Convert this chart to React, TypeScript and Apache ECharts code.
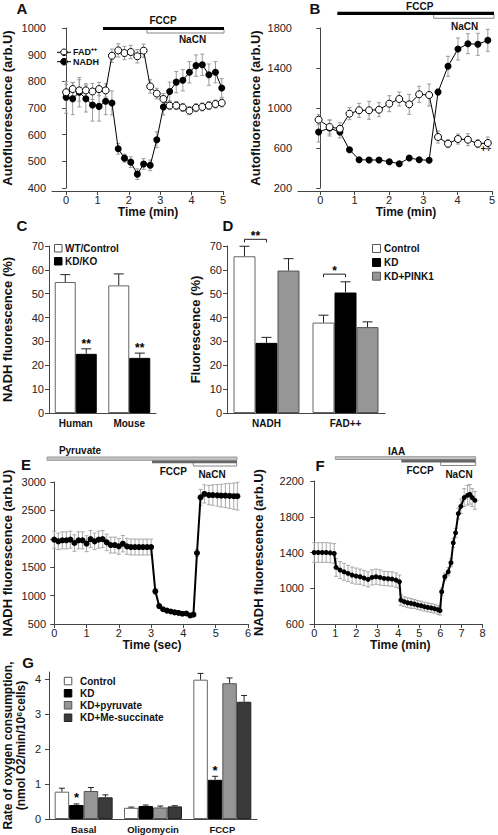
import React, { useEffect, useRef } from "react";
import * as echarts from "echarts";

const FONT = "'Liberation Sans', Arial, Helvetica, sans-serif";
const AXIS = "#444";
const INK = "#111";

// ---------- Panel A ----------
const aTime = [0, 0.21, 0.42, 0.63, 0.84, 1.05, 1.26, 1.46, 1.66, 1.86, 2.06, 2.27, 2.47, 2.68, 2.89, 3.1, 3.3, 3.51, 3.72, 3.93, 4.14, 4.34, 4.55, 4.76, 4.96];
const aFad = [759, 771, 766, 766, 762, 771, 766, 896, 916, 906, 910, 894, 915, 781, 754, 734, 709, 709, 702, 690, 701, 704, 709, 715, 719];
const aFadErr = [30, 25, 40, 25, 30, 25, 25, 25, 25, 25, 25, 25, 25, 25, 20, 20, 15, 15, 15, 15, 15, 15, 15, 15, 15];
const aNadh = [740, 735, 759, 735, 711, 706, 725, 719, 547, 512, 497, 452, 490, 485, 581, 704, 762, 797, 804, 834, 859, 862, 825, 834, 775];
const aNadhErr = [60, 60, 55, 50, 60, 55, 50, 45, 20, 15, 20, 20, 20, 20, 30, 30, 35, 40, 40, 40, 40, 40, 40, 40, 35];
const aXTicks = [0, 1, 2, 3, 4, 5];

// ---------- Panel B ----------
const bTime = [-0.05, 0.27, 0.57, 0.85, 1.13, 1.42, 1.71, 2.01, 2.3, 2.59, 2.88, 3.17, 3.43, 3.72, 4.01, 4.3, 4.59, 4.88];
const bFad = [883, 810, 793, 943, 977, 977, 983, 1043, 1090, 1037, 1137, 1130, 710, 643, 690, 683, 643, 650];
const bFadErr = [50, 70, 60, 60, 70, 90, 70, 80, 70, 100, 80, 110, 60, 40, 50, 60, 40, 60];
const bNadh = [760, 800, 760, 583, 483, 480, 480, 463, 443, 500, 483, 477, 1160, 1417, 1590, 1643, 1637, 1677];
const bNadhErr = [100, 80, 60, 20, 15, 15, 15, 15, 15, 15, 15, 15, 30, 100, 110, 100, 110, 110];
const bXTicks = [0, 1, 2, 3, 4, 5];
const bYTicks = [200, 600, 1000, 1400, 1800];

// ---------- Panel C ----------
const cCats = ["Human", "Mouse"];
const cWT = [54.9, 53.5];
const cWTErr = [3.1, 4.8];
const cKD = [24.8, 23.1];
const cKDErr = [2.1, 2.0];
const cKDSig = ["**", "**"];

// ---------- Panel D ----------
const dCats = ["NADH", "FAD++"];
const dControl = [65.7, 37.9];
const dControlErr = [4.2, 3.1];
const dKD = [29.4, 50.5];
const dKDErr = [2.3, 4.5];
const dPink = [59.7, 36.0];
const dPinkErr = [5.0, 2.2];
const dBracketLevel = [72.8, 58.2];
const dBracketSig = ["**", "*"];

// ---------- Panel E ----------
const eTime = [0, 0.125, 0.25, 0.375, 0.5, 0.625, 0.75, 0.875, 1.0, 1.125, 1.25, 1.375, 1.5, 1.625, 1.75, 1.875, 2.0, 2.125, 2.25, 2.375, 2.5, 2.625, 2.75, 2.875, 3.0,
  3.13, 3.25, 3.37, 3.49, 3.61, 3.73, 3.85, 3.97, 4.09, 4.21, 4.31,
  4.42, 4.53, 4.65, 4.79, 4.91, 5.05, 5.17, 5.3, 5.43, 5.56, 5.67];
const eNadh = [1985, 1955, 1973, 1973, 1985, 1926, 1973, 1973, 1914, 1996, 1955, 1985, 1996, 1937, 1890, 1890, 1867, 1914, 1867, 1855, 1855, 1855, 1855, 1855, 1855,
  1075, 815, 760, 735, 720, 705, 695, 680, 685, 650, 665,
  1750, 2730, 2790, 2770, 2770, 2765, 2760, 2760, 2755, 2750, 2750];
const eErr = [150, 145, 150, 150, 150, 145, 150, 150, 140, 150, 145, 150, 150, 145, 140, 140, 140, 145, 140, 140, 140, 140, 140, 140, 140,
  50, 35, 30, 30, 30, 30, 30, 30, 30, 30, 30,
  60, 140, 160, 170, 180, 190, 200, 210, 220, 230, 245];
const eXTicks = [0, 1, 2, 3, 4, 5, 6];

// ---------- Panel F ----------
const fTime = [0, 0.19, 0.38, 0.57, 0.76, 0.95, 1.04, 1.23, 1.42, 1.61, 1.8, 1.99, 2.18, 2.37, 2.56, 2.75, 2.94, 3.13, 3.32, 3.51, 3.7, 3.89, 4.05,
  4.12, 4.28, 4.44, 4.6, 4.76, 4.92, 5.08, 5.24, 5.4, 5.56, 5.72, 5.88, 5.98,
  6.06, 6.21, 6.37, 6.5, 6.61, 6.72, 6.85, 6.97, 7.13, 7.29, 7.4, 7.51, 7.64];
const fNadh = [1400, 1400, 1400, 1400, 1396, 1389, 1233, 1203, 1184, 1166, 1147, 1136, 1129, 1114, 1099, 1121, 1129, 1121, 1110, 1106, 1103, 1091, 1073,
  868, 850, 838, 831, 824, 812, 805, 794, 786, 780, 771, 760, 750,
  961, 1129, 1184, 1285, 1508, 1620, 1835, 1917, 2014, 2040, 2051, 2014, 1984];
const fErr = [110, 110, 110, 110, 110, 110, 100, 95, 95, 90, 90, 90, 85, 85, 85, 85, 85, 85, 80, 80, 80, 80, 75,
  60, 55, 55, 55, 50, 50, 50, 50, 50, 50, 50, 50, 50,
  40, 40, 45, 45, 50, 50, 60, 80, 100, 110, 110, 100, 100];
const fXTicks = [0, 1, 2, 3, 4, 5, 6, 7, 8];
const fYTicks = [600, 1000, 1400, 1800, 2200];

// ---------- Panel G ----------
const gCats = ["Basal", "Oligomycin", "FCCP"];
const gControl = [0.78, 0.32, 3.98];
const gControlErr = [0.1, 0.02, 0.18];
const gKD = [0.4, 0.37, 1.12];
const gKDErr = [0.03, 0.03, 0.1];
const gKDSig = ["*", "", "*"];
const gPyruvate = [0.8, 0.33, 3.88];
const gPyruvateErr = [0.1, 0.04, 0.15];
const gSuccinate = [0.62, 0.36, 3.35];
const gSuccinateErr = [0.07, 0.02, 0.18];
const gYTicks = [0, 1, 2, 3, 4];

// ---------- helpers ----------
const plain = (v: number) => String(v);

function lineErr(gi: number, times: number[], vals: number[], errs: number[], color: string, capW: number) {
  return {
    type: "custom",
    xAxisIndex: gi,
    yAxisIndex: gi,
    z: 1,
    silent: true,
    data: times.map((t, i) => [t, vals[i], errs[i]]),
    encode: { x: 0, y: 1 },
    renderItem: (params: any, api: any) => {
      const x = api.value(0), y = api.value(1), e = api.value(2);
      const lo = api.coord([x, y - e]);
      const hi = api.coord([x, y + e]);
      const h = capW / 2;
      const st = { stroke: color, lineWidth: 1 };
      return {
        type: "group",
        children: [
          { type: "line", shape: { x1: lo[0], y1: lo[1], x2: hi[0], y2: hi[1] }, style: st },
          { type: "line", shape: { x1: lo[0] - h, y1: lo[1], x2: lo[0] + h, y2: lo[1] }, style: st },
          { type: "line", shape: { x1: hi[0] - h, y1: hi[1], x2: hi[0] + h, y2: hi[1] }, style: st },
        ],
      };
    },
  };
}

function lineSeries(gi: number, name: string, times: number[], vals: number[], size: number, width: number, open: boolean, z: number) {
  return {
    type: "line",
    name,
    xAxisIndex: gi,
    yAxisIndex: gi,
    data: times.map((t, i) => [t, vals[i]]),
    symbol: "circle",
    symbolSize: size,
    showAllSymbol: true,
    lineStyle: { color: "#000", width },
    itemStyle: open ? { color: "#fff", borderColor: "#000", borderWidth: 1 } : { color: "#000", borderColor: "#000", borderWidth: 0 },
    z,
    silent: true,
  };
}

function barSeries(gi: number, name: string, data: number[], color: string, border: string, barW: number) {
  return {
    type: "bar",
    name,
    xAxisIndex: gi,
    yAxisIndex: gi,
    data,
    barWidth: barW,
    barGap: "0%",
    itemStyle: { color, borderColor: border, borderWidth: 1 },
    silent: true,
    z: 2,
  };
}

function barErr(gi: number, vals: number[], errs: number[], k: number, n: number, barW: number, capW: number, stars?: string[], starSize?: number, starLift?: number) {
  return {
    type: "custom",
    xAxisIndex: gi,
    yAxisIndex: gi,
    z: 6,
    silent: true,
    data: vals.map((v, i) => [i, v, errs[i]]),
    encode: { x: 0, y: 1 },
    renderItem: (params: any, api: any) => {
      const i = api.value(0), v = api.value(1), e = api.value(2);
      const top = api.coord([i, v]);
      const cap = api.coord([i, v + e]);
      const x = top[0] + (k - (n - 1) / 2) * barW;
      const st = { stroke: "#222", lineWidth: 1 };
      const ch: any[] = [
        { type: "line", shape: { x1: x, y1: top[1], x2: x, y2: cap[1] }, style: st },
        { type: "line", shape: { x1: x - capW / 2, y1: cap[1], x2: x + capW / 2, y2: cap[1] }, style: st },
      ];
      const s = stars ? stars[params.dataIndex] : "";
      if (s) {
        ch.push({
          type: "text",
          x,
          y: cap[1] - (starLift || 5),
          style: { text: s, textAlign: "center", textVerticalAlign: "middle", fontSize: starSize || 12, fontWeight: "bold", fontFamily: FONT, fill: "#000" },
        });
      }
      return { type: "group", children: ch };
    },
  };
}

function bracketSeries(gi: number, levels: number[], sigs: string[], n: number, barW: number) {
  return {
    type: "custom",
    xAxisIndex: gi,
    yAxisIndex: gi,
    z: 7,
    silent: true,
    data: levels.map((l, i) => [i, l]),
    encode: { x: 0, y: 1 },
    renderItem: (params: any, api: any) => {
      const i = api.value(0), l = api.value(1);
      const c = api.coord([i, l]);
      const x1 = c[0] + (0 - (n - 1) / 2) * barW;
      const x2 = c[0] + (1 - (n - 1) / 2) * barW;
      const y = c[1];
      return {
        type: "group",
        children: [
          { type: "polyline", shape: { points: [[x1, y + 3], [x1, y], [x2, y], [x2, y + 3]] }, style: { stroke: "#222", lineWidth: 1, fill: null } },
          {
            type: "text",
            x: (x1 + x2) / 2,
            y: y - 3,
            style: { text: sigs[params.dataIndex], textAlign: "center", textVerticalAlign: "middle", fontSize: 12, fontWeight: "bold", fontFamily: FONT, fill: "#000" },
          },
        ],
      };
    },
  };
}

const nameStyle = (size = 13) => ({ fontFamily: FONT, fontWeight: "bold", fontSize: size, color: INK });
const labelStyle = { color: "#222", fontSize: 11, fontFamily: FONT, formatter: plain };

function valueX(gi: number, min: number, max: number, ticks: number[], name: string, gap: number, shift: number, offset: number) {
  return {
    gridIndex: gi,
    type: "value",
    min,
    max,
    offset,
    axisLine: { show: true, onZero: false, lineStyle: { color: AXIS, width: 1 } },
    axisTick: { show: true, length: 4, customValues: ticks, lineStyle: { color: AXIS } },
    axisLabel: { ...labelStyle, margin: 3, customValues: ticks },
    splitLine: { show: false },
    name,
    nameLocation: "middle",
    nameGap: gap,
    nameTextStyle: { ...nameStyle(12), padding: [0, 0, 0, shift * 2] },
  };
}

function valueY(gi: number, min: number, max: number, name: string, gap: number, extra: any = {}) {
  return {
    gridIndex: gi,
    type: "value",
    min,
    max,
    axisLine: { show: true, lineStyle: { color: AXIS, width: 1 } },
    axisTick: { show: true, length: 4, lineStyle: { color: AXIS }, ...(extra.tick || {}) },
    axisLabel: { ...labelStyle, margin: 6, ...(extra.label || {}) },
    splitLine: { show: false },
    name,
    nameLocation: "middle",
    nameGap: gap,
    nameTextStyle: extra.nameStyle || nameStyle(13),
    ...(extra.interval ? { interval: extra.interval } : {}),
  };
}

function catX(gi: number, cats: string[], size: number) {
  return {
    gridIndex: gi,
    type: "category",
    data: cats,
    axisLine: { show: true, lineStyle: { color: AXIS, width: 1 } },
    axisTick: { show: false },
    axisLabel: { color: INK, fontSize: size, fontWeight: "bold", fontFamily: FONT, margin: 5 },
    splitLine: { show: false },
  };
}

function gText(x: number, y: number, text: string, size: number, align = "center", weight = "bold") {
  return {
    type: "text",
    x,
    y,
    silent: true,
    style: { text, fill: INK, fontSize: size, fontWeight: weight, fontFamily: FONT, textAlign: align, textVerticalAlign: "middle" },
  };
}

function gRect(x: number, y: number, w: number, h: number, fill: string, stroke?: string) {
  return {
    type: "rect",
    silent: true,
    shape: { x, y, width: w, height: h },
    style: { fill, stroke: stroke || null, lineWidth: stroke ? 1 : 0 },
  };
}

function buildOption() {
  const graphics: any[] = [
    // panel letters
    gText(22, 8, "A", 15),
    gText(315, 8, "B", 15),
    gText(22, 225, "C", 15),
    gText(228, 225, "D", 15),
    gText(26, 464, "E", 15),
    gText(320, 465, "F", 15),
    gText(28, 662, "G", 15),
    // Panel A treatment bars
    gRect(147, 29.5, 77, 3.5, "#fff", "#888"),
    gRect(103, 27, 121, 3, "#000"),
    gText(163, 20, "FCCP", 10),
    gText(192.5, 39, "NaCN", 10),
    // Panel A legend
    { type: "line", silent: true, shape: { x1: 57, y1: 52.3, x2: 71, y2: 52.3 }, style: { stroke: "#000", lineWidth: 1 } },
    { type: "circle", silent: true, shape: { cx: 64, cy: 52.3, r: 3.3 }, style: { fill: "#fff", stroke: "#000", lineWidth: 1 } },
    gText(73, 52.3, "FAD⁺⁺", 9, "left"),
    { type: "line", silent: true, shape: { x1: 57, y1: 61.7, x2: 71, y2: 61.7 }, style: { stroke: "#000", lineWidth: 1 } },
    { type: "circle", silent: true, shape: { cx: 64, cy: 61.7, r: 3.3 }, style: { fill: "#000", stroke: "#000", lineWidth: 1 } },
    gText(73, 61.7, "NADH", 9, "left"),
    // Panel B treatment bars
    gRect(433.7, 14.5, 60.3, 3.8, "#fff", "#888"),
    gRect(337.3, 11.7, 156.7, 3.3, "#000"),
    gText(419.7, 6.5, "FCCP", 10),
    gText(464.7, 26, "NaCN", 10),
    gText(486, 149, "++", 9),
    // Panel C legend
    gRect(54.5, 244.5, 7.5, 7.5, "#fff", "#555"),
    gText(65, 248.3, "WT/Control", 10, "left"),
    gRect(54.5, 257.5, 7.5, 7.5, "#000", "#000"),
    gText(65, 261.3, "KD/KO", 10, "left"),
    // Panel D legend
    gRect(372.5, 244.5, 8, 8, "#fff", "#555"),
    gText(384, 248.5, "Control", 10, "left"),
    gRect(372.5, 258.5, 8, 8, "#000", "#000"),
    gText(384, 262.5, "KD", 10, "left"),
    gRect(372.5, 272.2, 8, 8, "#969696", "#555"),
    gText(384, 276.2, "KD+PINK1", 10, "left"),
    // Panel E treatment bars
    gRect(47, 457, 190, 3.3, "#c4c4c4", "#9a9a9a"),
    gRect(193.3, 462.3, 43.4, 3.7, "#fff", "#888"),
    gRect(152, 460.5, 85, 2.8, "#666"),
    gText(80, 450.5, "Pyruvate", 10),
    gText(173.3, 471.5, "FCCP", 10),
    gText(212, 474, "NaCN", 10),
    // Panel F treatment bars
    gRect(335.3, 456.7, 140.4, 2.8, "#c4c4c4", "#9a9a9a"),
    gRect(440.7, 461.7, 35, 3.8, "#fff", "#888"),
    gRect(401.3, 459.5, 74.4, 3, "#666"),
    gText(396.7, 451.7, "IAA", 10),
    gText(420, 470, "FCCP", 10),
    gText(459, 474, "NaCN", 10),
    // Panel G legend
    gRect(64.3, 677.3, 7.5, 7.5, "#fff", "#555"),
    gText(80, 681, "Control", 10, "left"),
    gRect(64.3, 689.5, 7.5, 7.5, "#000", "#000"),
    gText(80, 693.3, "KD", 10, "left"),
    gRect(64.3, 701.5, 7.5, 7.5, "#969696", "#555"),
    gText(80, 705.3, "KD+pyruvate", 10, "left"),
    gRect(64.3, 714, 7.5, 7.5, "#3a3a3a", "#222"),
    gText(80, 717.7, "KD+Me-succinate", 10, "left"),
  ];

  return {
    animation: false,
    backgroundColor: "#fff",
    textStyle: { fontFamily: FONT },
    grid: [
      { left: 52, top: 28, width: 171, height: 160 },
      { left: 298, top: 28, width: 195.5, height: 160 },
      { left: 49, top: 246, width: 107, height: 167 },
      { left: 227, top: 246, width: 158, height: 167 },
      { left: 52, top: 482, width: 196, height: 142 },
      { left: 310, top: 481, width: 172.5, height: 143 },
      { left: 49, top: 672, width: 208, height: 147 },
    ],
    xAxis: [
      valueX(0, -0.45, 5, aXTicks, "Time (min)", 15, 10.5, 3),
      valueX(1, -0.65, 5, bXTicks, "Time (min)", 15, 11, 3),
      catX(2, cCats, 10),
      catX(3, dCats, 10),
      valueX(4, -0.07, 6, eXTicks, "Time (sec)", 14, 2, 0),
      valueX(5, -0.2, 8, fXTicks, "Time (min)", 14, 4, 0),
      catX(6, gCats, 9.5),
    ],
    yAxis: [
      valueY(0, 400, 1000, "Autofluorescence (arb.U)", 38, { interval: 100 }),
      valueY(1, 200, 1800, "Autofluorescence (arb.U)", 36, { tick: { customValues: bYTicks }, label: { customValues: bYTicks } }),
      valueY(2, 0, 70, "NADH fluorescence (%)", 35, { interval: 10, label: { margin: 5 } }),
      valueY(3, 0, 70, "Fluorescence (%)", 25, { interval: 10, label: { margin: 5 } }),
      valueY(4, 500, 3000, "NADH fluorescence (arb.U)", 38, { interval: 500 }),
      valueY(5, 600, 2200, "NADH fluorescence (arb.U)", 45, { tick: { customValues: fYTicks }, label: { customValues: fYTicks } }),
      valueY(6, 0, 4.2, "Rate of oxygen consumption,\n(nmol O2/min/10⁶cells)", 22, {
        tick: { customValues: gYTicks },
        label: { customValues: gYTicks, margin: 8 },
        nameStyle: { ...nameStyle(12), lineHeight: 13 },
      }),
    ],
    graphic: { elements: graphics },
    series: [
      // A
      lineErr(0, aTime, aNadh, aNadhErr, "#9a9a9a", 4),
      lineErr(0, aTime, aFad, aFadErr, "#9a9a9a", 4),
      lineSeries(0, "NADH", aTime, aNadh, 7, 1, false, 3),
      lineSeries(0, "FAD++", aTime, aFad, 7, 1, true, 4),
      // B
      lineErr(1, bTime, bNadh, bNadhErr, "#9a9a9a", 4),
      lineErr(1, bTime, bFad, bFadErr, "#9a9a9a", 4),
      lineSeries(1, "NADH B", bTime, bNadh, 7, 1, false, 3),
      lineSeries(1, "FAD++ B", bTime, bFad, 7, 1, true, 4),
      // C
      barSeries(2, "WT/Control", cWT, "#fff", "#666", 21),
      barSeries(2, "KD/KO", cKD, "#000", "#000", 21),
      barErr(2, cWT, cWTErr, 0, 2, 21, 10),
      barErr(2, cKD, cKDErr, 1, 2, 21, 10, cKDSig, 12, 5),
      // D
      barSeries(3, "Control D", dControl, "#fff", "#666", 22),
      barSeries(3, "KD D", dKD, "#000", "#000", 22),
      barSeries(3, "KD+PINK1", dPink, "#969696", "#555", 22),
      barErr(3, dControl, dControlErr, 0, 3, 22, 10),
      barErr(3, dKD, dKDErr, 1, 3, 22, 10),
      barErr(3, dPink, dPinkErr, 2, 3, 22, 10),
      bracketSeries(3, dBracketLevel, dBracketSig, 3, 22),
      // E
      lineErr(4, eTime, eNadh, eErr, "#a8a8a8", 4),
      lineSeries(4, "NADH E", eTime, eNadh, 6, 2, false, 3),
      // F
      lineErr(5, fTime, fNadh, fErr, "#a8a8a8", 4),
      lineSeries(5, "NADH F", fTime, fNadh, 5, 2, false, 3),
      // G
      barSeries(6, "Control G", gControl, "#fff", "#666", 14.5),
      barSeries(6, "KD G", gKD, "#000", "#000", 14.5),
      barSeries(6, "KD+pyruvate", gPyruvate, "#969696", "#555", 14.5),
      barSeries(6, "KD+Me-succinate", gSuccinate, "#3a3a3a", "#222", 14.5),
      barErr(6, gControl, gControlErr, 0, 4, 14.5, 6),
      barErr(6, gKD, gKDErr, 1, 4, 14.5, 6, gKDSig, 13, 6),
      barErr(6, gPyruvate, gPyruvateErr, 2, 4, 14.5, 6),
      barErr(6, gSuccinate, gSuccinateErr, 3, 4, 14.5, 6),
    ],
  };
}

export default function App() {
  const ref = useRef<HTMLDivElement>(null);
  useEffect(() => {
    if (!ref.current) return;
    const chart = echarts.init(ref.current, null, { renderer: "svg" });
    chart.setOption(buildOption() as any);
    return () => chart.dispose();
  }, []);
  return (
    <div
      ref={ref}
      style={{ position: "absolute", left: 0, top: 0, width: 498, height: 835, background: "#fff" }}
    />
  );
}
